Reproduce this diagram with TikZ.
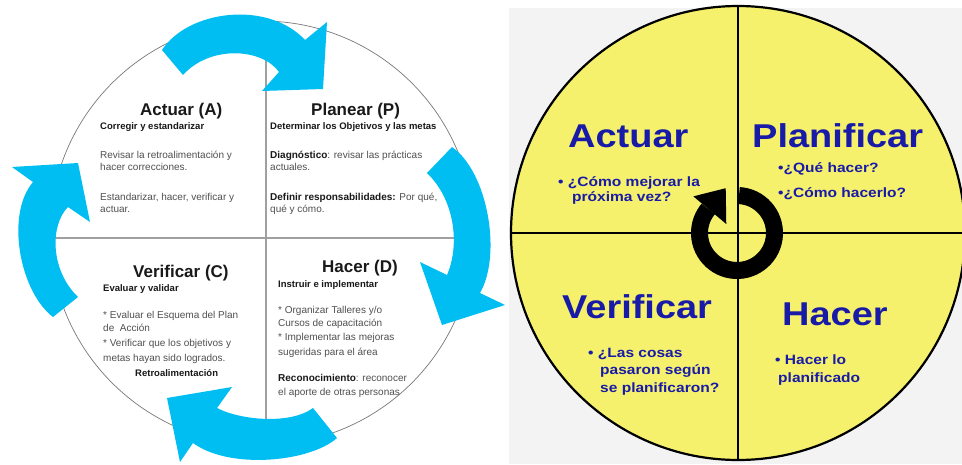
\documentclass[tikz,border=0pt]{standalone}
\usepackage{fontspec}
\usepackage{graphicx}
\setmainfont{Liberation Sans}
\usetikzlibrary{calc}

\definecolor{cyanarrow}{RGB}{0,190,242}
\definecolor{panelgray}{RGB}{243,243,243}
\definecolor{discyellow}{RGB}{246,241,108}
\definecolor{deepblue}{RGB}{24,26,168}
\definecolor{bodygray}{RGB}{80,80,80}
\definecolor{inkdark}{RGB}{25,25,25}
\definecolor{rulegray}{RGB}{160,160,160}
\definecolor{rimgray}{RGB}{120,120,120}

\newcommand{\wide}[1]{\scalebox{1.15}[1]{#1}}

\begin{document}
\begin{tikzpicture}[x=1pt,y=-1pt,
  txt/.style={inner sep=0pt, anchor=base west},
  lttl/.style={txt, font=\bfseries\fontsize{17}{19}\selectfont, text=inkdark},
  lsub/.style={txt, font=\bfseries\fontsize{9.5}{11}\selectfont, text=inkdark},
  lbody/.style={txt, font=\fontsize{10}{12}\selectfont, text=bodygray},
  rttl/.style={txt, font=\bfseries\fontsize{33}{36}\selectfont, text=deepblue},
  rbody/.style={txt, font=\bfseries\fontsize{13.5}{15}\selectfont, text=deepblue},
  bluearrow/.style={fill=cyanarrow, draw=none}]

\useasboundingbox (0,0) rectangle (962,464);
\fill[white] (0,0) rectangle (962,464);

% ---------------- PDCA wheel with cyan arrows ----------------
\coordinate (lc) at (262,233);
\draw[rimgray, line width=0.7pt] (lc) circle[radius=212];
\coordinate (vtop) at (266,22);
\coordinate (vbot) at (266,444);
\coordinate (hlft) at (50,238);
\coordinate (hrgt) at (474,238);
\draw[rulegray, line width=1.8pt] (vtop) -- (vbot);
\draw[rulegray, line width=1.8pt] (hlft) -- (hrgt);

% top arrow (Actuar -> Planear)
\fill[bluearrow] (162,50) .. controls (188,10) and (268,0) .. (305,40)
  -- (327,22) -- (323,89) -- (262,91) -- (279,72)
  .. controls (262,48) and (210,45) .. (183,75) -- cycle;
% right arrow (Planear -> Hacer)
\fill[bluearrow] (452,147) .. controls (488,172) and (502,255) .. (480,293)
  -- (505,305) -- (442,325) -- (420,262) -- (447,275)
  .. controls (460,245) and (455,200) .. (427,173) -- cycle;
% bottom arrow (Hacer -> Verificar)
\fill[bluearrow] (337,438) .. controls (310,462) and (230,470) .. (193,443)
  -- (180,462) -- (167,398) -- (232,387) -- (217,408)
  .. controls (240,420) and (290,425) .. (313,408) -- cycle;
% left arrow (Verificar -> Actuar)
\fill[bluearrow] (53,317) .. controls (20,292) and (5,215) .. (33,182)
  -- (12,167) -- (78,163) -- (90,222) -- (68,207)
  .. controls (50,225) and (50,270) .. (78,297) -- cycle;

% Actuar (A)
\node[lttl] (aTitle) at (140,115) {Actuar (A)};
\node[lsub] (aSub) at (100,129) {Corregir y estandarizar};
\node[lbody] (aL1) at (100,158) {Revisar la retroalimentación y};
\node[lbody] (aL2) at (100,170.5) {hacer correcciones.};
\node[lbody] (aL3) at (100,200) {Estandarizar, hacer, verificar y};
\node[lbody] (aL4) at (100,212.5) {actuar.};

% Planear (P)
\node[lttl] (pTitle) at (311,115) {Planear (P)};
\node[lsub] (pSub) at (270,129) {Determinar los Objetivos y las metas};
\node[lbody] (pL1) at (270,158) {{\color{inkdark}\bfseries Diagnóstico}: revisar las prácticas};
\node[lbody] (pL2) at (270,170.5) {actuales.};
\node[lbody] (pL3) at (270,200) {{\color{inkdark}\bfseries Definir responsabilidades:} Por qué,};
\node[lbody] (pL4) at (270,212.5) {qué y cómo.};

% Verificar (C)
\node[lttl] (cTitle) at (133,277) {Verificar (C)};
\node[lsub] (cSub) at (103,291) {Evaluar y validar};
\node[lbody] (cL1) at (103,318) {* Evaluar el Esquema del Plan};
\node[lbody] (cL2) at (103,331) {de\ \ Acción};
\node[lbody] (cL3) at (103,346) {* Verificar que los objetivos y};
\node[lbody] (cL4) at (103,361) {metas hayan sido logrados.};
\node[lsub] (cL5) at (135,376) {Retroalimentación};

% Hacer (D)
\node[lttl] (dTitle) at (322,272) {Hacer (D)};
\node[lsub] (dSub) at (278,287) {Instruir e implementar};
\node[lbody] (dL1) at (278,313) {* Organizar Talleres y/o};
\node[lbody] (dL2) at (278,326) {Cursos de capacitación};
\node[lbody] (dL3) at (278,340) {* Implementar las mejoras};
\node[lbody] (dL4) at (278,355) {sugeridas para el área};
\node[lbody] (dL5) at (278,381) {{\color{inkdark}\bfseries Reconocimiento}: reconocer};
\node[lbody] (dL6) at (278,395) {el aporte de otras personas};

% ---------------- yellow PDCA disc ----------------
\fill[panelgray] (509,8) rectangle (962,464);
\coordinate (rc) at (738,233);
\filldraw[fill=discyellow, draw=black, line width=2.2pt] (rc) circle[radius=227];
\draw[line width=2.2pt] (rc) +(0,-227) -- +(0,227);
\draw[line width=2.2pt] (rc) +(-227,0) -- +(227,0);

% central cycle arrow
\coordinate (ringc) at (737,233);
\draw[line width=17pt] (ringc) ++(-87:37.5) arc[start angle=-87, end angle=220, radius=37.5];
\path (ringc) ++(220:14) coordinate (hb1);
\path (ringc) ++(220:57) coordinate (hb2);
\coordinate (htip) at (725.7,188.2);
\fill (hb1) -- (htip) -- (hb2) -- cycle;

% quadrant headings
\node[rttl] (rA) at (568,147) {\wide{Actuar}};
\node[rttl] (rP) at (752,147) {\wide{Planificar}};
\node[rttl] (rV) at (562,318) {\wide{Verificar}};
\node[rttl] (rH) at (782,325) {\wide{Hacer}};

% quadrant notes
\node[rbody] (rA1) at (558,186) {\wide{• ¿Cómo mejorar la}};
\node[rbody] (rA2) at (572,201) {\wide{próxima vez?}};
\node[rbody] (rP1) at (778,172) {\wide{•¿Qué hacer?}};
\node[rbody] (rP2) at (778,197) {\wide{•¿Cómo hacerlo?}};
\node[rbody] (rV1) at (588,357) {\wide{• ¿Las cosas}};
\node[rbody] (rV2) at (600,374) {\wide{pasaron según}};
\node[rbody] (rV3) at (600,392) {\wide{se planificaron?}};
\node[rbody] (rH1) at (775,364) {\wide{• Hacer lo}};
\node[rbody] (rH2) at (778,382) {\wide{planificado}};

\end{tikzpicture}
\end{document}
